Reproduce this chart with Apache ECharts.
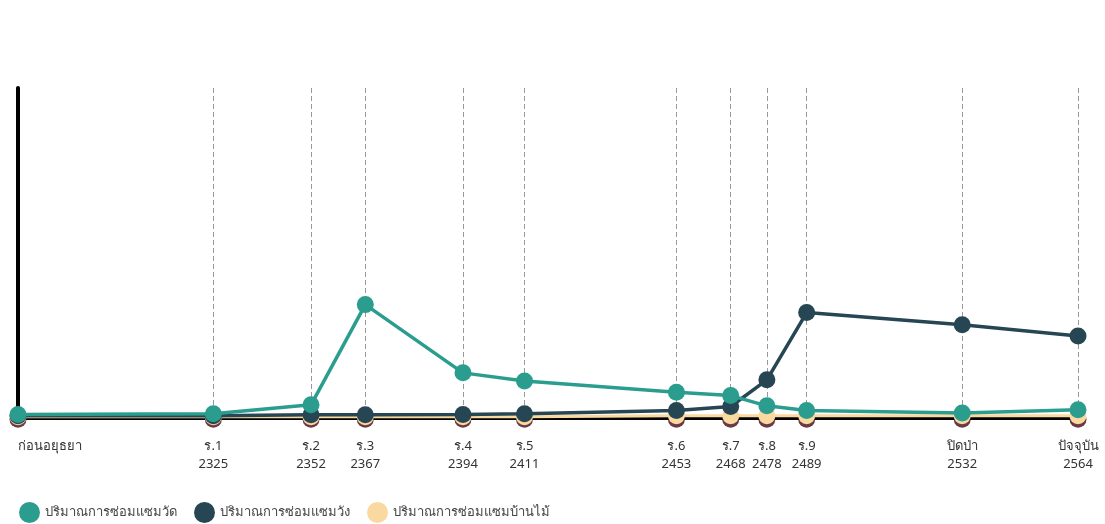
<!DOCTYPE html>
<html>
<head>
<meta charset="utf-8">
<script src="https://cdn.jsdelivr.net/npm/echarts@6/dist/echarts.min.js"></script>
<style>
html,body{margin:0;padding:0;background:#fff;}
#c{width:1105px;height:524px;}
</style>
</head>
<body>
<div id="c"></div>
<script>
// Periods and their (Buddhist Era) years; the pre-Ayutthaya point is placed at an estimated year
const periods = ['ก่อนอยุธยา','ร.1','ร.2','ร.3','ร.4','ร.5','ร.6','ร.7','ร.8','ร.9','ปิดป่า','ปัจจุบัน'];
const years   = [2271, 2325, 2352, 2367, 2394, 2411, 2453, 2468, 2478, 2489, 2532, 2564];
const showYear = [false, true, true, true, true, true, true, true, true, true, true, true];

// Relative repair amounts
const temple = [1.0, 1.2, 3.9, 34.3, 13.6, 11.1, 7.7, 6.7, 3.6, 2.2, 1.4, 2.4];
const palace = [0.6, 0.6, 0.9, 0.9, 1.0, 1.2, 2.2, 3.4, 11.5, 31.9, 28.2, 24.8];
const house  = [0.3, 0.3, 0.3, 0.3, 0.3, 0.3, 0.6, 0.6, 0.6, 0.6, 0.6, 0.6];
const other  = [-0.5, -0.5, -0.5, -0.5, -0.5, -0.5, -0.5, -0.5, -0.5, -0.5, -0.5, -0.5];

const names = ['ปริมาณการซ่อมแซมวัด','ปริมาณการซ่อมแซมวัง','ปริมาณการซ่อมแซมบ้านไม้'];

const pairs = arr => years.map((y, i) => [y, arr[i]]);
const FONT = 'Noto Sans, DejaVu Sans, sans-serif';

const chart = echarts.init(document.getElementById('c'), null, {renderer: 'canvas'});
chart.setOption({
  animation: false,
  textStyle: {fontFamily: FONT},
  grid: {left: 18, right: 27, top: 88, bottom: 103, containLabel: false},
  legend: {
    left: 14, top: 497,
    icon: 'circle', itemWidth: 21, itemHeight: 21, itemGap: 17,
    data: names,
    textStyle: {fontSize: 13, color: '#444', fontFamily: FONT}
  },
  xAxis: {
    type: 'value',
    min: 'dataMin', max: 'dataMax',
    z: 1,
    axisLine: {show: true, onZero: true, lineStyle: {color: '#000', width: 4}},
    axisTick: {show: false},
    splitLine: {show: false},
    axisLabel: {
      customValues: years,
      margin: 16,
      fontSize: 13,
      color: '#333',
      lineHeight: 18,
      alignMinLabel: 'left',
      formatter: function (v) {
        const i = years.indexOf(v);
        if (i < 0) return '';
        return showYear[i] ? periods[i] + '\n' + years[i] : periods[i];
      }
    }
  },
  yAxis: {
    type: 'value', min: -1, max: 100,
    axisLine: {show: true, lineStyle: {color: '#000', width: 4}},
    axisTick: {show: false}, axisLabel: {show: false}, splitLine: {show: false}
  },
  series: [
    {
      name: 'other', type: 'line', data: pairs(other), z: 0,
      symbol: 'circle', symbolSize: 17,
      itemStyle: {color: '#6b3a45'}, lineStyle: {color: '#6b3a45', width: 0, opacity: 0},
      markLine: {
        z: 0, silent: true, symbol: 'none', label: {show: false},
        lineStyle: {color: '#999', type: [5, 3], width: 1},
        data: years.slice(1).map(y => ({xAxis: y}))
      }
    },
    {
      name: names[2], type: 'line', data: pairs(house), z: 2,
      symbol: 'circle', symbolSize: 17,
      itemStyle: {color: '#fad9a0'}, lineStyle: {color: '#fad9a0', width: 3}
    },
    {
      name: names[1], type: 'line', data: pairs(palace), z: 3,
      symbol: 'circle', symbolSize: 17,
      itemStyle: {color: '#264653'}, lineStyle: {color: '#264653', width: 3.5}
    },
    {
      name: names[0], type: 'line', data: pairs(temple), z: 4,
      symbol: 'circle', symbolSize: 17,
      itemStyle: {color: '#2a9d8f'}, lineStyle: {color: '#2a9d8f', width: 3.5}
    }
  ]
});
</script>
</body>
</html>
